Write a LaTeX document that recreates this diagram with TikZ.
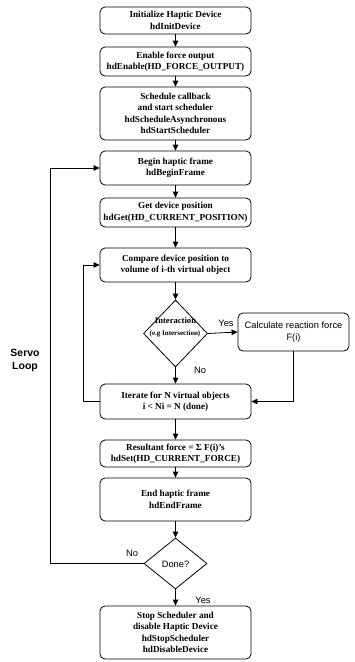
\documentclass[tikz,border=0pt]{standalone}
\usepackage{fontspec}
\setmainfont{Liberation Serif}
\newfontfamily\arial{Liberation Sans}
\usetikzlibrary{arrows.meta,shapes.geometric}
\begin{document}
\begin{tikzpicture}[x=1pt,y=-1pt,
  box/.style={draw,rounded corners=5pt,line width=0.8pt,minimum width=151pt,align=center,inner sep=1pt,
    font=\fontsize{9.2}{11.5}\selectfont\bfseries},
  sbox/.style={draw,rounded corners=5pt,line width=0.8pt,align=center,inner sep=1pt,
    font=\arial\fontsize{9.3}{11.5}\selectfont},
  dia/.style={draw,diamond,line width=0.8pt,inner sep=0pt},
  lab/.style={font=\arial\fontsize{9.3}{11}\selectfont},
  arr/.style={line width=0.8pt,-{Triangle[length=6pt,width=5.5pt]}},
  ln/.style={line width=0.8pt}]
\useasboundingbox (0,0) rectangle (354,662);
\node[box,minimum height=27pt] (b1) at (175.5,20.5) {Initialize Haptic Device\\hdInitDevice};
\node[box,minimum height=29pt] (b2) at (175.5,61.5) {Enable force output\\hdEnable(HD\_FORCE\_OUTPUT)};
\node[box,minimum height=53pt] (b3) at (175.5,113.5) {Schedule callback\\and start scheduler\\hdScheduleAsynchronous\\hdStartScheduler};
\node[box,minimum height=34pt] (b4) at (175.5,168) {Begin haptic frame\\hdBeginFrame};
\node[box,minimum height=29pt] (b5) at (175.5,212.5) {Get device position\\hdGet(HD\_CURRENT\_POSITION)};
\node[box,minimum height=34pt] (b6) at (175.5,265) {Compare device position to\\volume of i-th virtual object};
\node[dia,minimum width=64pt,minimum height=67pt] (d1) at (175.5,333.5) {};
\node[font=\fontsize{8.6}{10}\selectfont\bfseries,inner sep=0pt] (d1a) at (175.5,320.5) {Interaction};
\node[font=\fontsize{7}{9}\selectfont\bfseries,inner sep=0pt] (d1b) at (175,334) {(e.g Intersection)};
\node[sbox,minimum width=111pt,minimum height=38pt] (calc) at (293.5,332) {Calculate reaction force\\F(i)};
\node[box,minimum height=35pt] (b7) at (175.5,401.5) {Iterate for N virtual objects\\i < Ni = N (done)};
\node[box,minimum height=27pt] (b8) at (175.5,453.5) {Resultant force = Σ F(i)’s\\hdSet(HD\_CURRENT\_FORCE)};
\node[box,minimum height=43pt] (b9) at (175.5,499.5) {End haptic frame\\hdEndFrame};
\node[dia,minimum width=63pt,minimum height=51pt] (d2) at (175.5,563.5) {};
\node[lab,inner sep=0pt] (d2t) at (175.5,564) {Done?};
\node[box,minimum height=53pt] (b10) at (175.5,632.5) {Stop Scheduler and\\disable Haptic Device\\hdStopScheduler\\hdDisableDevice};
\node[lab] (yes1) at (226,323) {Yes};
\node[lab] (no1) at (200,370) {No};
\node[lab] (no2) at (132,553) {No};
\node[lab] (yes2) at (203,600) {Yes};
\node[font=\arial\fontsize{10.5}{13}\selectfont\bfseries,align=center] (servo) at (25,360) {Servo\\Loop};
\coordinate (sl) at (50,563.5);
\coordinate (il) at (83,401.5);
\draw[arr] (b1) -- (b2);
\draw[arr] (b2) -- (b3);
\draw[arr] (b3) -- (b4);
\draw[arr] (b4) -- (b5);
\draw[arr] (b5) -- (b6);
\draw[arr] (b6) -- (d1.north);
\draw[arr] (d1.south) -- (b7);
\draw[arr] (d1.east) -- (calc.west);
\draw[arr] (calc.south) |- (b7.east);
\draw[arr] (b7.west) -- (il) |- (b6.west);
\draw[arr] (b7) -- (b8);
\draw[arr] (b8) -- (b9);
\draw[arr] (b9) -- (d2.north);
\draw[arr] (d2.south) -- (b10);
\draw[arr] (d2.west) -- (sl) |- (b4.west);
\end{tikzpicture}
\end{document}
